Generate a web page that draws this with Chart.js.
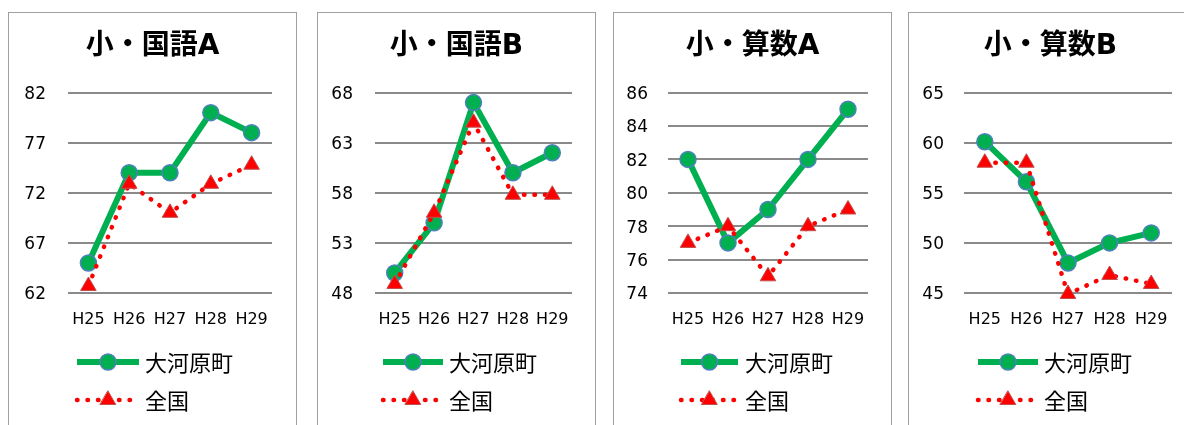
<!DOCTYPE html>
<html>
<head>
<meta charset="utf-8">
<script src="https://cdn.jsdelivr.net/npm/chart.js@4/dist/chart.umd.min.js"></script>
<style>
  body { margin: 0; background: #fff; overflow: hidden; width: 1184px; height: 425px; position: relative; }
  .panel { position: absolute; top: 12px; height: 440px; border: 1px solid #a0a0a0; background: #fff; }
  .panel canvas { display: block; }
</style>
</head>
<body>
<div class="panel" style="left:8px;width:287px"><canvas id="c1" width="287" height="420"></canvas></div>
<div class="panel" style="left:317px;width:277px"><canvas id="c2" width="277" height="420"></canvas></div>
<div class="panel" style="left:613px;width:277px"><canvas id="c3" width="277" height="420"></canvas></div>
<div class="panel" style="left:908px;width:283px"><canvas id="c4" width="283" height="420"></canvas></div>
<script>
const years = ["H25", "H26", "H27", "H28", "H29"];
const seriesNames = ["大河原町", "全国"];
const titles = ["小・国語A", "小・国語B", "小・算数A", "小・算数B"];

// 大河原町 / 全国
const kokugoA_town = [65, 74, 74, 80, 78];
const kokugoA_nation = [62.7, 72.9, 70.0, 72.9, 74.8];
const kokugoB_town = [50, 55, 67, 60, 62];
const kokugoB_nation = [48.9, 56, 65, 57.8, 57.8];
const sansuA_town = [82, 77, 79, 82, 85];
const sansuA_nation = [77, 78, 75, 78, 79];
const sansuB_town = [60.1, 56.1, 48, 50, 51];
const sansuB_nation = [58, 58, 44.9, 46.8, 45.9];

// y axis ranges
const yMin = [62, 48, 74, 45];
const yMax = [82, 68, 86, 65];
const yStep = [5, 5, 2, 5];

const townData = [kokugoA_town, kokugoB_town, sansuA_town, sansuB_town];
const nationData = [kokugoA_nation, kokugoB_nation, sansuA_nation, sansuB_nation];

// layout per panel (canvas px)
const panels = [
  { id: "c1", padR: 24, axisW: 59, tickPad: 22, legX: 68, legLen: 62, textX: 136 },
  { id: "c2", padR: 23, axisW: 57, tickPad: 22, legX: 65, legLen: 60, textX: 131 },
  { id: "c3", padR: 23, axisW: 54, tickPad: 20, legX: 67, legLen: 57, textX: 131 },
  { id: "c4", padR: 20, axisW: 55, tickPad: 20, legX: 69, legLen: 60, textX: 135 },
];

const FONT = "'DejaVu Sans', 'Noto Sans CJK JP', sans-serif";
const JP_FONT = "'Noto Sans CJK JP', sans-serif";

// legend drawn as line + marker, stacked vertically
const lineLegend = {
  id: "lineLegend",
  afterDraw(chart, args, opts) {
    const ctx = chart.ctx;
    chart.data.datasets.forEach((ds, i) => {
      const y = opts.top + i * opts.gap;
      const x0 = opts.left;
      const x1 = opts.left + opts.length;
      ctx.save();
      ctx.strokeStyle = ds.borderColor;
      ctx.lineWidth = ds.borderWidth;
      ctx.lineCap = ds.borderCapStyle || "butt";
      ctx.setLineDash(ds.borderDash || []);
      ctx.beginPath();
      ctx.moveTo(x0, y);
      ctx.lineTo(x1, y);
      ctx.stroke();
      ctx.setLineDash([]);
      ctx.fillStyle = ds.pointBackgroundColor;
      ctx.strokeStyle = ds.pointBorderColor;
      ctx.lineWidth = ds.pointBorderWidth;
      Chart.helpers.drawPoint(ctx, {
        pointStyle: ds.pointStyle,
        radius: ds.pointRadius,
        borderWidth: ds.pointBorderWidth,
        rotation: 0,
      }, (x0 + x1) / 2, y);
      ctx.fillStyle = "#000";
      ctx.font = "22px " + JP_FONT;
      ctx.textBaseline = "middle";
      ctx.textAlign = "left";
      ctx.fillText(ds.label, opts.textX, y + 1);
      ctx.restore();
    });
  },
};

panels.forEach((p, k) => {
  new Chart(document.getElementById(p.id), {
    type: "line",
    data: {
      labels: years,
      datasets: [
        {
          label: seriesNames[0],
          data: townData[k],
          borderColor: "#00b050",
          borderWidth: 6,
          pointStyle: "circle",
          pointRadius: 8,
          pointBackgroundColor: "#00b050",
          pointBorderColor: "#4f81bd",
          pointBorderWidth: 1.5,
          tension: 0,
          clip: false,
          order: 2,
        },
        {
          label: seriesNames[1],
          data: nationData[k],
          borderColor: "#ff0000",
          borderWidth: 4.5,
          borderDash: [0.5, 10],
          borderCapStyle: "round",
          pointStyle: "triangle",
          pointRadius: 9,
          pointBackgroundColor: "#ff0000",
          pointBorderColor: "#c0504d",
          pointBorderWidth: 1,
          tension: 0,
          clip: false,
          order: 1,
        },
      ],
    },
    options: {
      responsive: false,
      animation: false,
      devicePixelRatio: 1,
      layout: {
        padding: { left: 0, right: 0, top: 0, bottom: 100 },
      },
      plugins: {
        legend: { display: false },
        tooltip: { enabled: false },
        title: {
          display: true,
          text: titles[k],
          color: "#000",
          font: { family: FONT, size: 28, weight: "bold", lineHeight: 1.2 },
          padding: { top: 17, bottom: 29 },
        },
        lineLegend: { left: p.legX, length: p.legLen, textX: p.textX, top: 349, gap: 38 },
      },
      scales: {
        x: {
          offset: true,
          grid: { display: false, drawTicks: false },
          border: { display: false },
          ticks: { color: "#000", padding: 17, font: { family: FONT, size: 16 } },
          afterFit: (s) => { s.height = 40; },
        },
        y: {
          min: yMin[k],
          max: yMax[k],
          grid: { color: "#8a8a8a", lineWidth: 2, drawTicks: false },
          border: { display: false },
          ticks: {
            stepSize: yStep[k],
            color: "#000",
            padding: p.tickPad,
            labelOffset: 2,
            font: { family: FONT, size: 17 },
          },
          afterFit: (s) => { s.width = p.axisW; },
        },
        // empty right-hand axis: keeps the plot off the right edge, title stays centred
        yRight: {
          position: "right",
          display: true,
          grid: { display: false, drawTicks: false },
          border: { display: false },
          ticks: { display: false },
          afterFit: (s) => { s.width = p.padR; },
        },
      },
    },
    plugins: [lineLegend],
  });
});
</script>
</body>
</html>
